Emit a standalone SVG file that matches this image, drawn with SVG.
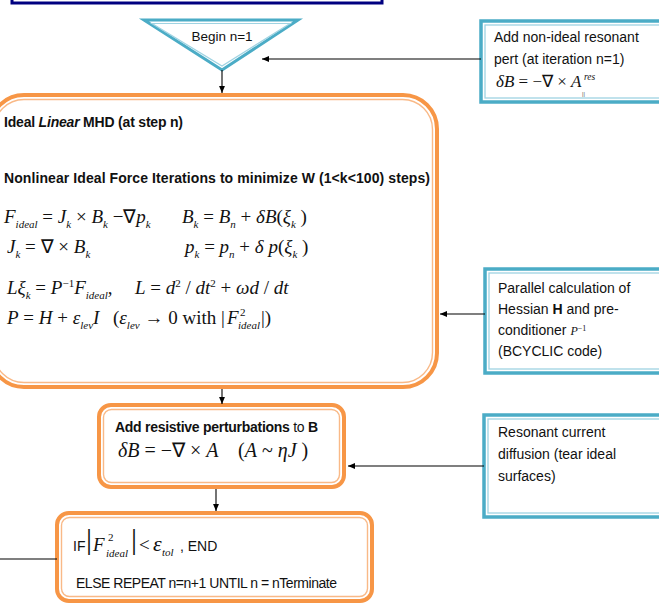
<svg xmlns="http://www.w3.org/2000/svg" width="659" height="606" viewBox="0 0 659 606">
<defs>
<style>
.t{font-family:"Liberation Sans",Arial,sans-serif;font-size:14px;fill:#111}
.b{font-weight:bold}
.m{font-family:"Liberation Serif","Times New Roman",serif;font-size:19px;fill:#111}
.i{font-style:italic}
.s{font-size:11px}
.tealO{fill:#fff;stroke:#4bacc6;stroke-width:3.5}
.tealI{fill:none;stroke:#9fd3e2;stroke-width:1.3}
.orO{fill:#fff;stroke:#f79646;stroke-width:4}
.orI{fill:none;stroke:#f9b987;stroke-width:1.4}
.c{stroke:#000;stroke-width:1.1;fill:none}
</style>
<marker id="ah" viewBox="0 0 10 10" refX="10" refY="5" markerWidth="6.5" markerHeight="6.5" orient="auto"><path d="M0,0.8 L10,5 L0,9.2 z" fill="#000"/></marker>
</defs>
<rect width="659" height="606" fill="#fff"/>

<g id="topbox">
<rect x="12" y="-12" width="370" height="15" fill="#fff" stroke="#000080" stroke-width="3"/>
<rect x="15.5" y="-12" width="363" height="11.5" fill="none" stroke="#5a5ab8" stroke-width="1"/>
</g>

<g id="begin">
<polygon points="144,20 298,20 222,70" fill="#fff" stroke="#4bacc6" stroke-width="3"/>
<polygon points="152,23.5 290,23.5 222,66" fill="none" stroke="#9fd3e2" stroke-width="1.2"/>
<text class="t" x="222" y="41" text-anchor="middle" style="font-size:13.5px">Begin n=1</text>
</g>

<g id="pert">
<rect class="tealO" x="481" y="21" width="184" height="81"/>
<rect class="tealI" x="485" y="25" width="180" height="73"/>
<text class="t" x="494" y="42">Add non-ideal resonant</text>
<text class="t" x="494" y="64">pert  (at iteration n=1)</text>
<text class="m" x="496" y="87" style="font-size:17px"><tspan class="i">δB</tspan> = −∇ × <tspan class="i">A</tspan></text>
<text class="m i" x="584" y="80" style="font-size:9.5px">res</text>
<text class="m" x="582" y="96" style="font-size:7px">||</text>
</g>

<g id="ideal">
<rect class="orO" x="-10" y="95" width="447" height="292" rx="34"/>
<rect class="orI" x="-6" y="99.5" width="438.5" height="283" rx="30"/>
<text class="t b" x="4" y="127" textLength="179">Ideal <tspan class="i">Linear</tspan> MHD (at step n)</text>
<text class="t b" x="4" y="183" textLength="426">Nonlinear Ideal Force Iterations to minimize W (1&lt;k&lt;100) steps)</text>
<text class="m" x="4" y="223"><tspan class="i">F</tspan><tspan class="i s" dy="5">ideal</tspan><tspan dy="-5"> = </tspan><tspan class="i">J</tspan><tspan class="i s" dy="5">k</tspan><tspan dy="-5"> × </tspan><tspan class="i">B</tspan><tspan class="i s" dy="5">k</tspan><tspan dy="-5"> −∇</tspan><tspan class="i">p</tspan><tspan class="i s" dy="5">k</tspan></text>
<text class="m" x="182" y="223"><tspan class="i">B</tspan><tspan class="i s" dy="5">k</tspan><tspan dy="-5"> = </tspan><tspan class="i">B</tspan><tspan class="i s" dy="5">n</tspan><tspan dy="-5"> + </tspan><tspan class="i">δB</tspan>(<tspan class="i">ξ</tspan><tspan class="i s" dy="5">k</tspan><tspan dy="-5"> )</tspan></text>
<text class="m" x="7" y="253"><tspan class="i">J</tspan><tspan class="i s" dy="5">k</tspan><tspan dy="-5"> = ∇ × </tspan><tspan class="i">B</tspan><tspan class="i s" dy="5">k</tspan></text>
<text class="m" x="185" y="253"><tspan class="i">p</tspan><tspan class="i s" dy="5">k</tspan><tspan dy="-5"> = </tspan><tspan class="i">p</tspan><tspan class="i s" dy="5">n</tspan><tspan dy="-5"> + </tspan><tspan class="i">δ p</tspan>(<tspan class="i">ξ</tspan><tspan class="i s" dy="5">k</tspan><tspan dy="-5"> )</tspan></text>
<text class="m" x="7" y="294"><tspan class="i">Lξ</tspan><tspan class="i s" dy="5">k</tspan><tspan dy="-5"> = </tspan><tspan class="i">P</tspan><tspan class="s" dy="-7">−1</tspan><tspan class="i" dy="7">F</tspan><tspan class="i s" dy="5">ideal</tspan><tspan dy="-5">,</tspan></text>
<text class="m" x="135" y="294"><tspan class="i">L</tspan> = <tspan class="i">d</tspan><tspan class="s" dy="-7">2</tspan><tspan dy="7"> / </tspan><tspan class="i">dt</tspan><tspan class="s" dy="-7">2</tspan><tspan dy="7"> + </tspan><tspan class="i">ωd</tspan> / <tspan class="i">dt</tspan></text>
<text class="m" x="7" y="324"><tspan class="i">P</tspan> = <tspan class="i">H</tspan> + <tspan class="i">ε</tspan><tspan class="i s" dy="5">lev</tspan><tspan class="i" dy="-5">I</tspan><tspan x="113">(</tspan><tspan class="i">ε</tspan><tspan class="i s" dy="5">lev</tspan><tspan dy="-5"> → 0 with  |</tspan></text>
<text class="m i" x="227" y="324">F</text>
<text class="m s" x="240" y="316">2</text>
<text class="m i s" x="238" y="329">ideal</text>
<text class="m" x="261" y="324">|)</text>
</g>

<g id="hessian">
<rect class="tealO" x="485" y="269" width="178" height="104"/>
<rect class="tealI" x="489" y="273" width="174" height="96"/>
<text class="t" x="498" y="293">Parallel calculation of</text>
<text class="t" x="498" y="314">Hessian <tspan class="b">H</tspan> and pre-</text>
<text class="t" x="498" y="335">conditioner  <tspan class="m i" style="font-size:12px">P</tspan><tspan class="m" style="font-size:8px" dy="-4">−1</tspan></text>
<text class="t" x="498" y="356">(BCYCLIC code)</text>
</g>

<g id="resistive">
<rect class="orO" x="99" y="405" width="245" height="82" rx="12"/>
<rect class="orI" x="103.5" y="409.5" width="236" height="73" rx="8"/>
<text class="t" x="115" y="432" textLength="203"><tspan class="b">Add resistive perturbations</tspan> to <tspan class="b">B</tspan></text>
<text class="m" x="118" y="457" style="font-size:20px"><tspan class="i">δB</tspan> = −∇ × <tspan class="i">A</tspan></text>
<text class="m" x="238" y="457" style="font-size:20px">(<tspan class="i">A</tspan> ~ <tspan class="i">ηJ</tspan> )</text>
</g>

<g id="diffusion">
<rect class="tealO" x="484" y="415" width="180" height="102"/>
<rect class="tealI" x="488" y="419" width="176" height="94"/>
<text class="t" x="498" y="437">Resonant current</text>
<text class="t" x="498" y="459">diffusion (tear ideal</text>
<text class="t" x="498" y="481">surfaces)</text>
</g>

<g id="check">
<rect class="orO" x="57" y="513" width="315" height="88" rx="12"/>
<rect class="orI" x="61.5" y="517.5" width="306" height="79" rx="8"/>
<text class="t" x="73" y="551">IF</text>
<text class="m" x="86" y="549" style="font-size:30px">|</text>
<text class="m i" x="93" y="551">F</text>
<text class="m s" x="108" y="541">2</text>
<text class="m i s" x="106" y="557">ideal</text>
<text class="m" x="131" y="549" style="font-size:30px">|</text>
<text class="m" x="139" y="551">&lt;</text>
<text class="m i" x="153" y="551" style="font-size:22px">ε</text>
<text class="m i s" x="162" y="556">tol</text>
<text class="t" x="180" y="551">, END</text>
<text class="t" x="76" y="588" textLength="261">ELSE REPEAT n=n+1 UNTIL n = nTerminate</text>
</g>

<g id="connectors">
<line class="c" x1="222" y1="70" x2="222" y2="93" marker-end="url(#ah)"/>
<line class="c" x1="481" y1="59" x2="262" y2="59" marker-end="url(#ah)"/>
<line class="c" x1="485" y1="314" x2="440" y2="314" marker-end="url(#ah)"/>
<line class="c" x1="222" y1="389" x2="222" y2="404" marker-end="url(#ah)"/>
<line class="c" x1="484" y1="466" x2="348" y2="466" marker-end="url(#ah)"/>
<line class="c" x1="216" y1="489" x2="216" y2="511" marker-end="url(#ah)"/>
<line class="c" x1="57" y1="559" x2="0" y2="559"/>
</g>
</svg>
